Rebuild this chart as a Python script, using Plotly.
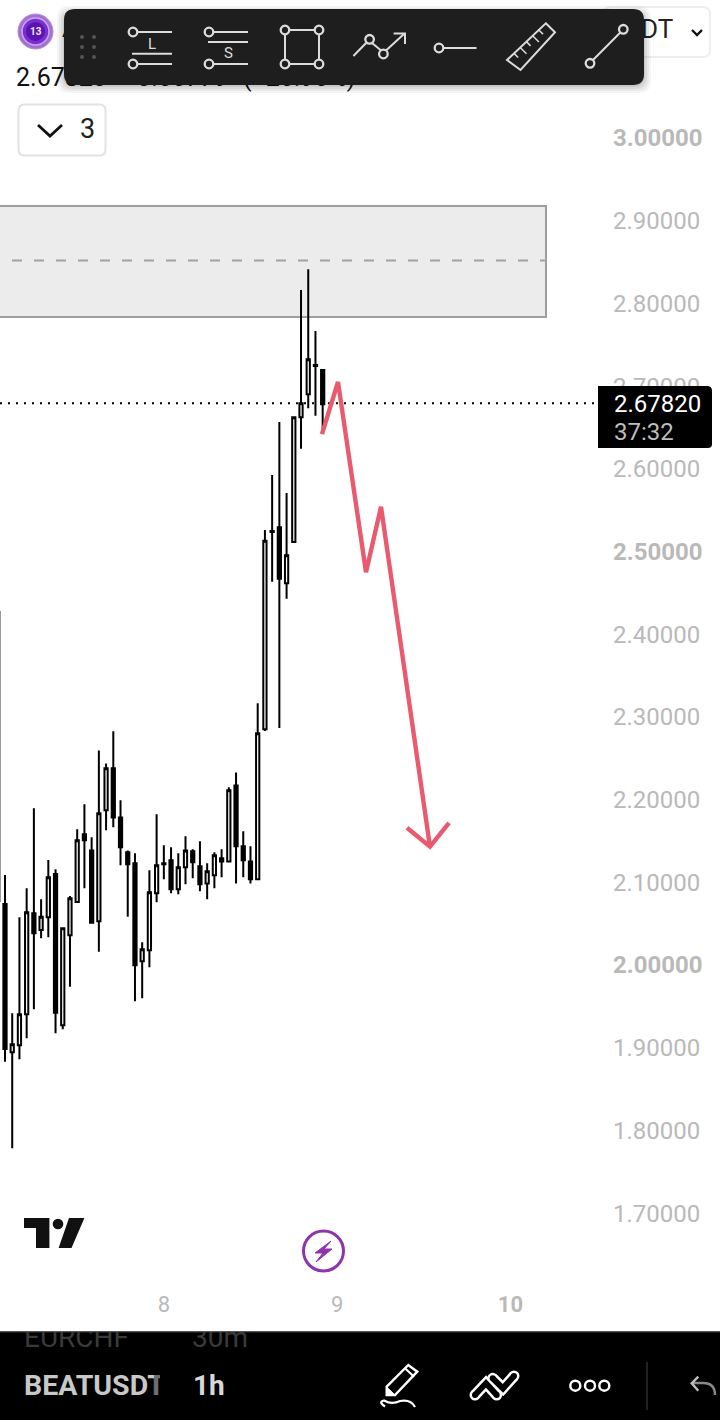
import plotly.graph_objects as go

# ---------- chart data ----------
hours = list(range(-1, 45))
highs = [2.4268,2.1088,1.9416,2.0576,2.0927,2.1894,2.0794,2.1270,2.1157,2.0443,2.0834,2.1640,2.1943,2.1544,2.2595,2.2438,2.2825,2.1991,2.1386,2.1350,2.0274,2.1145,2.1822,2.1447,2.1423,2.1350,2.1556,2.1399,2.1495,2.1229,2.1362,2.1399,2.2148,2.2329,2.1616,2.1435,2.3164,2.5260,2.5925,2.6566,2.5707,2.6626,2.8162,2.8412,2.7666,2.7195]
lows = [2.0774,1.8831,1.7784,1.8860,1.9114,1.9464,2.0323,2.0335,1.9174,1.9222,1.9738,2.0762,2.0927,2.0500,2.0161,2.1628,2.1665,2.1205,2.0584,1.9561,1.9597,1.9972,2.0758,2.1036,2.0867,2.0855,2.0975,2.1048,2.0891,2.0794,2.0927,2.1060,2.1253,2.0987,2.1060,2.0987,2.1036,2.2829,2.4635,2.2866,2.4429,2.5103,2.6243,2.6732,2.6642,2.6421]
opens = [2.0774,2.0738,1.8944,1.9029,1.9404,2.0625,2.0423,2.0576,2.1100,1.9271,2.0359,2.0762,2.1580,2.1386,2.0528,2.1870,2.2378,2.1785,2.1362,2.1229,2.0044,2.0177,2.0867,2.1217,2.1266,2.0915,2.1181,2.1374,2.1193,2.0987,2.1084,2.1290,2.1253,2.2172,2.1435,2.1253,2.1036,2.2850,2.5236,2.5293,2.4615,2.5115,2.6623,2.6901,2.7243,2.7195]
closes = [2.4268,1.8985,1.9041,1.9404,2.0637,2.0383,2.0584,2.1060,1.9424,2.0443,2.0806,2.1507,2.1507,2.0512,2.1834,2.2378,2.1785,2.1423,2.1217,1.9996,2.0190,2.0879,2.1205,2.1229,2.0915,2.1181,2.1386,2.1241,2.0975,2.1133,2.1326,2.1253,2.2112,2.1435,2.1266,2.1036,2.2801,2.5131,2.5248,2.4671,2.4954,2.6623,2.6792,2.7324,2.7255,2.6782]

price_ticks = [3.0,2.9,2.8,2.7,2.6,2.5,2.4,2.3,2.2,2.1,2.0,1.9,1.8,1.7]
price_labels = ["<b>3.00000</b>","2.90000","2.80000","2.70000","2.60000","<b>2.50000</b>","2.40000","2.30000","2.20000","2.10000","<b>2.00000</b>","1.90000","1.80000","1.70000"]
day_ticks = [22, 46, 70]
day_labels = ["8", "9", "<b>10</b>"]

last_price = 2.6792
zone_prices = [2.9178, 2.7836]
zone_mid = 2.8520
zone_hours = [-10, 74.93]
zone_dash_start = 0.97
arrow_hours = [43.9, 46.12, 50.0, 52.08, 58.86]
arrow_prices = [2.642, 2.705, 2.475, 2.554, 2.143]
head_hours = [55.68, 58.86, 61.5]
head_prices = [2.166, 2.143, 2.172]

# ---------- page geometry ----------
W, H = 720, 1420
PANE_W, PANE_H = 600, 1285
BAR_TOP = 1332
F = "Roboto"
TICK = "#b9b9b9"
ICON = "#dcdcdc"

shapes, annos = [], []


def s_line(x0, y0, x1, y1, color=ICON, w=2, layer="above"):
    shapes.append(dict(type="line", xref="x2", yref="y2", x0=x0, y0=y0, x1=x1, y1=y1,
                       line=dict(color=color, width=w), layer=layer))


def s_circle(cx, cy, r, line=ICON, w=2.3, fill="rgba(0,0,0,0)", layer="above"):
    shapes.append(dict(type="circle", xref="x2", yref="y2", x0=cx-r, y0=cy-r, x1=cx+r, y1=cy+r,
                       line=dict(color=line, width=w), fillcolor=fill, layer=layer))


def s_path(path, line=ICON, w=2, fill="rgba(0,0,0,0)", layer="above"):
    shapes.append(dict(type="path", xref="x2", yref="y2", path=path,
                       line=dict(color=line, width=w), fillcolor=fill, layer=layer))


def poly(pts, close=False):
    return "M" + " L".join(f"{x},{y}" for x, y in pts) + (" Z" if close else "")


def rrect(x0, y0, x1, y1, r):
    return (f"M{x0+r},{y0} L{x1-r},{y0} Q{x1},{y0} {x1},{y0+r} L{x1},{y1-r} Q{x1},{y1} {x1-r},{y1} "
            f"L{x0+r},{y1} Q{x0},{y1} {x0},{y1-r} L{x0},{y0+r} Q{x0},{y0} {x0+r},{y0} Z")


def s_rect(x0, y0, x1, y1, fill, layer="above"):
    shapes.append(dict(type="rect", xref="x2", yref="y2", x0=x0, y0=y0, x1=x1, y1=y1,
                       line=dict(width=0), fillcolor=fill, layer=layer))


def note(x, y, text, size=24, color="#000", anchor="left"):
    annos.append(dict(xref="x2", yref="y2", x=x, y=y, text=text, showarrow=False,
                      xanchor=anchor, yanchor="middle", borderpad=0, borderwidth=0,
                      font=dict(family=F, size=size, color=color)))


def text_trace(x, y, text, size, color, xa="x2", ya="y2", pos="middle right"):
    return go.Scatter(x=[x], y=[y], text=[text], mode="text", textposition=pos,
                      textfont=dict(family=F, size=size, color=color),
                      xaxis=xa, yaxis=ya, hoverinfo="skip", showlegend=False, cliponaxis=True)


# ---------- main price pane ----------
fig = go.Figure()
fig.add_trace(go.Candlestick(
    x=hours, open=opens, high=highs, low=lows, close=closes,
    increasing=dict(line=dict(color="#000", width=2), fillcolor="#fff"),
    decreasing=dict(line=dict(color="#000", width=2), fillcolor="#000"),
    whiskerwidth=0, hoverinfo="skip", showlegend=False))
for xs, ys in ((arrow_hours, arrow_prices), (head_hours, head_prices)):
    fig.add_trace(go.Scatter(x=xs, y=ys, mode="lines", hoverinfo="skip", showlegend=False,
                             line=dict(color="#e95a6e", width=4.4)))

zone = [
    dict(type="rect", xref="x", yref="y", x0=zone_hours[0], x1=zone_hours[1], y0=zone_prices[1], y1=zone_prices[0],
         fillcolor="#ececec", line=dict(color="#9e9e9e", width=2), layer="below"),
    dict(type="line", xref="x", yref="y", x0=zone_dash_start, x1=zone_hours[1], y0=zone_mid, y1=zone_mid,
         line=dict(color="#a2a2a2", width=2, dash="10px,12px"), layer="below"),
    dict(type="line", xref="x", yref="y", x0=-0.69, x1=hours[-1] + 60, y0=last_price, y1=last_price,
         line=dict(color="#000", width=2, dash="2px,6px"), layer="below"),
]
shapes.extend(zone)

# ---------- text hidden partly by the toolbar ----------
fig.add_trace(text_trace(62, 31, "A", 24, "#111"))
fig.add_trace(text_trace(641, 31, "DT", 26, "#222"))
fig.add_trace(text_trace(16, 80, "2.67820", 25, "#111"))
fig.add_trace(text_trace(228, 80, "+0.56779", 25, "#111", pos="middle left"))
fig.add_trace(text_trace(243, 80, "(+26.90%)", 25, "#111"))

# top-right symbol box
s_path(rrect(604, 7, 710, 57, 7), line="#eeeeee", w=2, layer="below")
s_path(poly([(692, 30), (697, 35), (702, 30)]), line="#111", w=2.4)

# logo
s_circle(35.5, 31.5, 17.5, line="#b58fdc", w=1, fill="#a36fd6", layer="below")
s_circle(35.5, 31.5, 13.5, line="#caa9ea", w=1.5, fill="#7a2fd0", layer="below")
s_circle(35.5, 31.5, 9, line="#5a14b0", w=1, fill="#5a14b0", layer="below")
note(35.5, 31.5, "<b>13</b>", 10, "#efe6fb", anchor="center")

# interval dropdown
s_path(rrect(18.5, 104.5, 105.5, 155.5, 6), line="#e2e2e2", w=2, fill="#fff")
s_path(poly([(38, 125), (50, 136), (62, 125)]), line="#111", w=2.8)
note(80, 129, "3", 27, "#222")

# toolbar shadow + body
for i, a in enumerate((0.04, 0.05, 0.06, 0.08)):
    g = 7 - i * 2
    s_path(rrect(64 - g, 9 - g + 4, 644 + g, 85 + g + 1, 12), line="rgba(0,0,0,0)", w=0, fill=f"rgba(0,0,0,{a})")
s_path(rrect(64, 9, 644, 85, 11), line="#1e1e1e", w=0, fill="#1e1e1e")
for gx in (82, 94):
    for gy in (37, 47, 57):
        s_circle(gx, gy, 2, line="#555", w=0, fill="#555")

# L tool
s_circle(133, 32, 4.3); s_line(137.5, 32, 172, 32)
s_line(132, 53.7, 172, 53.7)
s_circle(133, 64, 4.3); s_line(137.5, 64, 172, 64)
note(151.5, 43.5, "L", 15, ICON, anchor="center")
# S tool
s_circle(209, 32, 4.3); s_line(213.5, 32, 248, 32)
s_line(208, 42, 248, 42)
s_circle(209, 64, 4.3); s_line(213.5, 64, 248, 64)
note(228, 53, "S", 15, ICON, anchor="center")
# rectangle tool
for a, b, c, d in ((289.5, 30, 314.5, 30), (289.5, 64, 314.5, 64), (285, 34.5, 285, 59.5), (319, 34.5, 319, 59.5)):
    s_line(a, b, c, d)
for c in ((285, 30), (319, 30), (285, 64), (319, 64)):
    s_circle(c[0], c[1], 4.3)
# polyline tool
s_line(353.4, 56, 366.6, 42.5); s_line(372, 43, 380.8, 50.3); s_line(386, 50.5, 404.5, 33.5)
s_circle(369.6, 39.3, 4.3); s_circle(383.4, 54, 4.3)
s_path(poly([(393.6, 33.5), (405, 33.5), (405, 44)]))
# horizontal ray
s_circle(439, 48, 4.3); s_line(443.5, 48, 476.5, 48)
# ruler
s_path(poly([(545.8, 23.3), (555, 32.3), (520.5, 70), (507, 60)], close=True))
for t, ln in ((0.18, 6), (0.34, 9), (0.5, 6), (0.66, 9), (0.82, 6)):
    bx = 507 + (545.8 - 507) * t
    by = 60 + (23.3 - 60) * t
    s_line(bx, by, bx + ln * 0.7, by + ln * 0.7, w=1.5)
# trend line
s_line(593, 60, 620.3, 32.5)
s_circle(590, 63.3, 4.3); s_circle(623.3, 29.3, 4.3)

# last price tag
s_path("M598,386 L707,386 Q712,386 712,391 L712,444 Q712,448 708,448 L598,448 Z", line="#000", w=0, fill="#000")
note(614, 404, "2.67820", 24, "#fff")
note(614, 432, "37:32", 24, "#bdbdbd")

# TradingView mark
s_path(poly([(24, 1218), (49.4, 1218), (49.4, 1248), (36, 1248), (36, 1228), (24, 1228)], close=True), line="#111", w=0, fill="#111")
s_circle(58, 1224, 5.3, line="#111", w=0, fill="#111")
s_path(poly([(69, 1218), (84.4, 1218), (71.5, 1248), (58.6, 1248)], close=True), line="#111", w=0, fill="#111")

# lightning badge
s_circle(323.5, 1251, 20, line="#8e35ab", w=3)
s_path(poly([(331, 1241), (315, 1253), (323, 1253), (316, 1262), (332, 1249), (324, 1249)], close=True), line="#8e35ab", w=1, fill="#8e35ab")

# bottom bar
s_rect(0, BAR_TOP, W, H, "#000", layer="below")
s_line(0, BAR_TOP, W, BAR_TOP, color="#222", w=1.5, layer="below")
fig.add_trace(text_trace(24, 1340, "EURCHF", 28, "#3a3a3a", "x3", "y3"))
fig.add_trace(text_trace(192, 1340, "30m", 28, "#3a3a3a", "x3", "y3"))
fig.add_trace(text_trace(24, 1388, "<b>BEATUSDT</b>", 28.5, "#c8c8c8", "x3", "y3"))
fig.add_trace(text_trace(193, 1388, "<b>1h</b>", 28, "#d8d8d8", "x3", "y3"))
s_rect(160, 1368, 190, 1404, "#000")
s_rect(154, 1368, 160, 1404, "rgba(0,0,0,0.45)")

# pencil
s_path(poly([(386.7, 1386.7), (408.3, 1365), (417.3, 1371.7), (395, 1395), (386.7, 1395)], close=True), line="#fff", w=2.4)
s_line(405, 1368.3, 414, 1376.7, color="#fff", w=2.2)
s_path(poly([(386.7, 1387), (395, 1395), (386.7, 1395)], close=True), line="#fff", w=1, fill="#fff")
s_path("M385,1406.5 Q378,1402 384,1400.5 Q392,1405 400,1401 Q411,1399 415,1407", line="#fff", w=2.2)
# magnet chevrons
chev_a = [(475, 1395), (486, 1383.3), (496.7, 1395)]
chev_b = [(492.7, 1378.3), (503, 1388.3), (514, 1376)]
for chev in (chev_a, chev_b):
    s_path(poly(chev), line="#fff", w=11)
    for p in (chev[0], chev[2]):
        s_circle(p[0], p[1], 5.5, line="#fff", w=0, fill="#fff")
for chev in (chev_a, chev_b):
    s_path(poly(chev), line="#000", w=6)
    for p in (chev[0], chev[2]):
        s_circle(p[0], p[1], 3, line="#000", w=0, fill="#000")
# more dots
for cx in (575.3, 590, 604.3):
    s_circle(cx, 1385.7, 5, line="#fff", w=2.5)
# divider and undo
s_line(647, 1362, 647, 1410, color="#2d2d2d", w=1.5)
s_path("M715,1395 Q715,1383 703,1383 L692,1383", line="#8a8a8a", w=2.4)
s_path(poly([(698.3, 1376.7), (691.7, 1383.3), (698.3, 1390.7)]), line="#bdbdbd", w=2.4)

# ---------- layout ----------
px_per_hour = 7.22
x_zero_px = 5
fig.update_layout(
    width=W, height=H, autosize=False,
    margin=dict(l=0, r=0, t=0, b=0, pad=0),
    paper_bgcolor="#fff", plot_bgcolor="rgba(0,0,0,0)",
    showlegend=False, boxgap=0.36,
    shapes=shapes, annotations=annos,
    xaxis=dict(domain=[0, PANE_W / W], anchor="y",
               range=[(0 - x_zero_px) / px_per_hour, (PANE_W - x_zero_px) / px_per_hour],
               tickmode="array", tickvals=day_ticks, ticktext=day_labels,
               rangeslider=dict(visible=False), showgrid=False, zeroline=False, showline=False,
               ticks="", ticklabelstandoff=4,
               tickfont=dict(family=F, size=22, color=TICK), fixedrange=True),
    yaxis=dict(domain=[1 - PANE_H / H, 1], anchor="x", side="right",
               range=[3 - (PANE_H - 138) / 827, 3 + 138 / 827],
               tickmode="array", tickvals=price_ticks, ticktext=price_labels,
               showgrid=False, zeroline=False, showline=False, ticks="", ticklabelstandoff=12,
               tickfont=dict(family=F, size=24, color=TICK), fixedrange=True),
    xaxis2=dict(domain=[0, 1], anchor="y2", range=[0, W], visible=False, fixedrange=True),
    yaxis2=dict(domain=[0, 1], anchor="x2", range=[H, 0], visible=False, fixedrange=True),
    xaxis3=dict(domain=[0, 1], anchor="y3", range=[0, W], visible=False, fixedrange=True),
    yaxis3=dict(domain=[0, (H - BAR_TOP) / H], anchor="x3", range=[H, BAR_TOP], visible=False, fixedrange=True),
)

fig.write_html("out.html", config=dict(displayModeBar=False, staticPlot=True),
               post_script="document.body.style.margin='0';document.body.style.overflow='hidden';")
